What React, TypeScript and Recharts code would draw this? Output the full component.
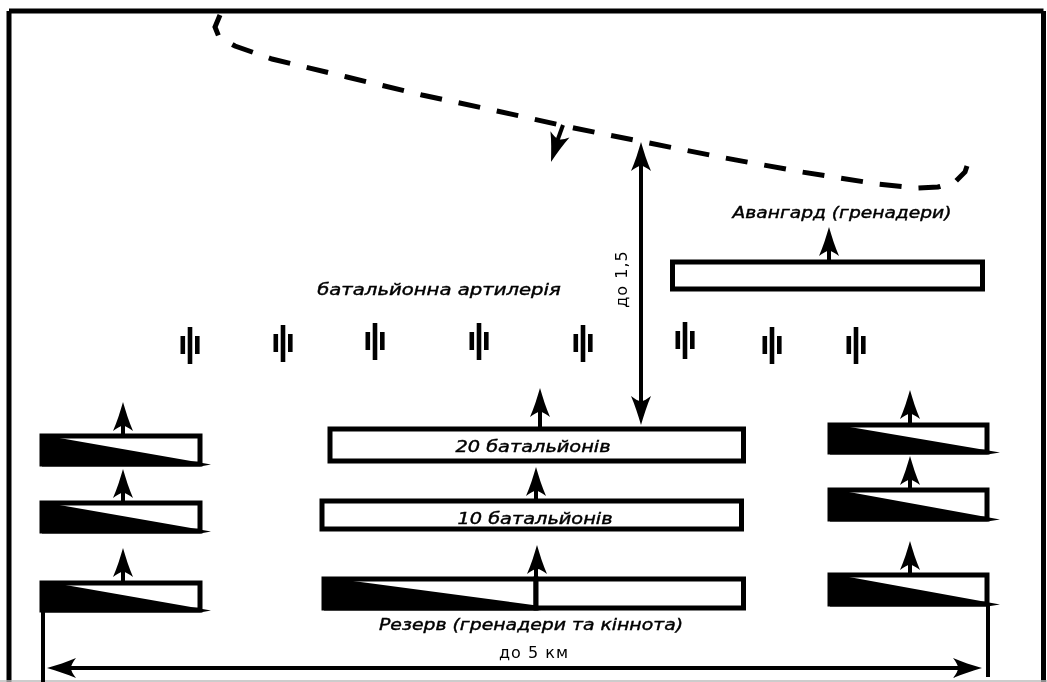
import { ScatterChart, Scatter, XAxis, YAxis, ReferenceArea, ReferenceLine } from 'recharts';

// everything in its own pixel units
const frameLines = [
  { x1: 9, y1: 11, x2: 1043.5, y2: 11 },
  { x1: 9, y1: 11, x2: 9, y2: 682 },
  { x1: 1043.5, y1: 11, x2: 1043.5, y2: 682 },
];

const frontLine = [
  { x: 220, y: 15 }, { x: 215, y: 27 }, { x: 219, y: 37 }, { x: 235, y: 46 },
  { x: 272, y: 59 }, { x: 347, y: 77 }, { x: 422, y: 95 }, { x: 497, y: 111 },
  { x: 574, y: 128 }, { x: 649, y: 143 }, { x: 725, y: 158 }, { x: 802, y: 172 },
  { x: 878, y: 184 }, { x: 917, y: 188 }, { x: 938, y: 187 }, { x: 955, y: 182 },
  { x: 965, y: 172 }, { x: 967, y: 166 },
];

const plainBoxes = [
  { x1: 330, y1: 429, x2: 743.5, y2: 461 },
  { x1: 322, y1: 501, x2: 741.5, y2: 529 },
  { x1: 672.5, y1: 262, x2: 982.5, y2: 289 },
];

const wedgeBoxes = [
  { x1: 42, y1: 436, x2: 200, y2: 464, notch: 6, tip: 11 },
  { x1: 42, y1: 503, x2: 200, y2: 531, notch: 6, tip: 11 },
  { x1: 42, y1: 583, x2: 200, y2: 610, notch: 12, tip: 11 },
  { x1: 324, y1: 579, x2: 536, y2: 608, notch: 14, tip: 23 },
  { x1: 830, y1: 425, x2: 987, y2: 452, notch: 8, tip: 13 },
  { x1: 830, y1: 490, x2: 987, y2: 519, notch: 8, tip: 13 },
  { x1: 830, y1: 575, x2: 987, y2: 604, notch: 8, tip: 13 },
];

const reserveRightBox = [{ x1: 536, y1: 579, x2: 743.5, y2: 608 }];

const shafts = [
  { x1: 123, y1: 420, x2: 123, y2: 434 },
  { x1: 123, y1: 488, x2: 123, y2: 502 },
  { x1: 123, y1: 566, x2: 123, y2: 582 },
  { x1: 540, y1: 406, x2: 540, y2: 428 },
  { x1: 536, y1: 486, x2: 536, y2: 500 },
  { x1: 536, y1: 563, x2: 536, y2: 608 },
  { x1: 910, y1: 408, x2: 910, y2: 423 },
  { x1: 910, y1: 474, x2: 910, y2: 489 },
  { x1: 910, y1: 559, x2: 910, y2: 573 },
  { x1: 829, y1: 245, x2: 829, y2: 261 },
  { x1: 641, y1: 160, x2: 641, y2: 407 },
  { x1: 563, y1: 125, x2: 554, y2: 150 },
  { x1: 65, y1: 668, x2: 964, y2: 668 },
  { x1: 43, y1: 612, x2: 43, y2: 682 },
  { x1: 988, y1: 606, x2: 988, y2: 677 },
];

const arrowHeads = [
  { x: 123, y: 402, angle: 0 },
  { x: 123, y: 469, angle: 0 },
  { x: 123, y: 548, angle: 0 },
  { x: 540, y: 388, angle: 0 },
  { x: 536, y: 467, angle: 0 },
  { x: 537, y: 545, angle: 0 },
  { x: 910, y: 390, angle: 0 },
  { x: 910, y: 456, angle: 0 },
  { x: 910, y: 541, angle: 0 },
  { x: 829, y: 227, angle: 0 },
  { x: 641, y: 142, angle: 0 },
  { x: 641, y: 425, angle: 180 },
  { x: 551, y: 162, angle: 198 },
  { x: 47, y: 668, angle: -90 },
  { x: 982, y: 668, angle: 90 },
];

const guns = [
  { x: 190, y: 345 }, { x: 283, y: 343 }, { x: 375, y: 341 }, { x: 479, y: 341 },
  { x: 583, y: 343 }, { x: 685, y: 340 }, { x: 772, y: 345 }, { x: 856, y: 345 },
];

const italicLabels = [
  { x: 842, y: 218, label: 'Авангард (гренадери)' },
  { x: 439, y: 295, label: 'батальйонна артилерія' },
  { x: 533, y: 452, label: '20 батальйонів' },
  { x: 535, y: 524, label: '10 батальйонів' },
  { x: 531, y: 630, label: 'Резерв (гренадери та кіннота)' },
];

const plainLabels = [
  { x: 534, y: 658, label: 'до 5 км', angle: 0 },
  { x: 627, y: 279, label: 'до 1,5', angle: -90 },
];

// the lettering in the picture is stretched sideways
const italicStretch: Record<string, number> = {
  'Авангард (гренадери)': 1.245,
  'батальйонна артилерія': 1.31,
  '20 батальйонів': 1.29,
  '10 батальйонів': 1.29,
  'Резерв (гренадери та кіннота)': 1.257,
};

const boxStroke = { stroke: '#000', strokeWidth: 5, fill: '#fff', fillOpacity: 1 };

function NoMark() {
  return null;
}

function WedgeBox(props: any) {
  const { x, y, width, height, notch, tip } = props;
  const right = x + width;
  const bottom = y + height;
  return (
    <g>
      <rect x={x} y={y} width={width} height={height} fill="#fff" stroke="#000" strokeWidth={5} />
      <polygon
        points={`${x},${y} ${x + notch},${y} ${right + tip},${bottom + 0.5} ${right},${bottom + 2.5} ${x},${bottom + 2.5}`}
        fill="#000"
      />
    </g>
  );
}

function ArrowHead(props: any) {
  const { cx, cy, payload } = props;
  return (
    <path
      transform={`translate(${cx} ${cy}) rotate(${payload.angle})`}
      d="M0 0 C3 10 6 20 10 29 C6 26 3 24 0 24 C-3 24 -6 26 -10 29 C-6 20 -3 10 0 0 Z"
      fill="#000"
    />
  );
}

function GunMark(props: any) {
  const { cx, cy } = props;
  return (
    <g fill="#000">
      <rect x={cx - 2.3} y={cy - 18} width={4.6} height={37} />
      <rect x={cx - 9.5} y={cy - 9} width={4.6} height={18} />
      <rect x={cx + 5} y={cy - 9} width={4.6} height={18} />
    </g>
  );
}

function ItalicLabel(props: any) {
  const { cx, cy, payload } = props;
  return (
    <text
      transform={`translate(${cx} ${cy}) scale(${italicStretch[payload.label]} 1)`}
      textAnchor="middle"
      fontFamily="DejaVu Sans"
      fontStyle="italic"
      fontSize={15}
      stroke="#000"
      strokeWidth={0.4}
      fill="#000"
    >
      {payload.label}
    </text>
  );
}

function PlainLabel(props: any) {
  const { cx, cy, payload } = props;
  return (
    <text
      x={cx}
      y={cy}
      transform={`rotate(${payload.angle} ${cx} ${cy})`}
      textAnchor="middle"
      fontFamily="DejaVu Sans"
      fontSize={16}
      letterSpacing={1}
      fill="#000"
    >
      {payload.label}
    </text>
  );
}

export default function App() {
  return (
    <div style={{ position: 'absolute', left: 0, top: 0, width: 1047, height: 682, filter: 'blur(0.7px)' }}>
      <ScatterChart width={1047} height={682} margin={{ top: 0, right: 0, bottom: 0, left: 0 }}>
        <XAxis type="number" dataKey="x" domain={[0, 1047]} hide />
        <YAxis type="number" dataKey="y" domain={[0, 682]} reversed hide />
        {plainBoxes.map((box, i) => (
          <ReferenceArea key={`box-${i}`} {...box} {...boxStroke} />
        ))}
        {wedgeBoxes.map((box, i) => (
          <ReferenceArea
            key={`wedge-${i}`}
            x1={box.x1}
            y1={box.y1}
            x2={box.x2}
            y2={box.y2}
            shape={(props: any) => <WedgeBox {...props} notch={box.notch} tip={box.tip} />}
          />
        ))}
        {reserveRightBox.map((box, i) => (
          <ReferenceArea key={`reserve-${i}`} {...box} {...boxStroke} />
        ))}
        {frameLines.map((l, i) => (
          <ReferenceLine key={`frame-${i}`} segment={[{ x: l.x1, y: l.y1 }, { x: l.x2, y: l.y2 }]} stroke="#000" strokeWidth={5} />
        ))}
        <ReferenceLine y={681} stroke="#bbb" strokeWidth={1.5} />
        {shafts.map((l, i) => (
          <ReferenceLine key={`shaft-${i}`} segment={[{ x: l.x1, y: l.y1 }, { x: l.x2, y: l.y2 }]} stroke="#000" strokeWidth={4} />
        ))}
        <Scatter
          data={frontLine}
          line={{ stroke: '#000', strokeWidth: 5, strokeDasharray: '22 17' }}
          lineType="joint"
          shape={NoMark}
          isAnimationActive={false}
        />
        <Scatter data={arrowHeads} shape={ArrowHead} isAnimationActive={false} />
        <Scatter data={guns} shape={GunMark} isAnimationActive={false} />
        <Scatter data={italicLabels} shape={ItalicLabel} isAnimationActive={false} />
        <Scatter data={plainLabels} shape={PlainLabel} isAnimationActive={false} />
      </ScatterChart>
    </div>
  );
}
